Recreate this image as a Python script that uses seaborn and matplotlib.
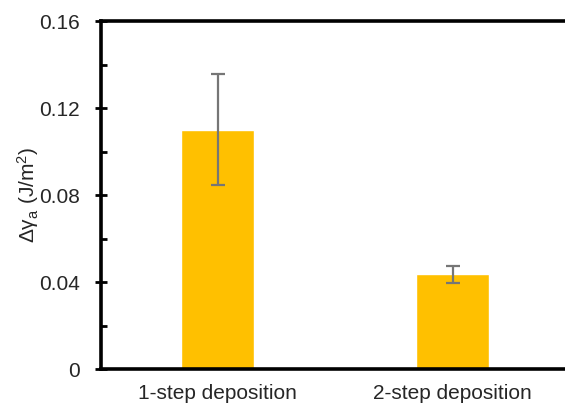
import matplotlib
matplotlib.use("Agg")
import matplotlib.pyplot as plt
import seaborn as sns
import pandas as pd
from matplotlib.ticker import MultipleLocator

categories = ["1-step deposition", "2-step deposition"]
values = [0.110, 0.0435]
errors = [0.0255, 0.0040]
yticks = [0, 0.04, 0.08, 0.12, 0.16]
ytick_labels = ["0", "0.04", "0.08", "0.12", "0.16"]

sns.set_theme(style="white")
plt.rcParams["font.family"] = ["Liberation Sans", "DejaVu Sans"]
plt.rcParams["mathtext.fontset"] = "custom"
plt.rcParams["mathtext.rm"] = "Liberation Sans"
plt.rcParams["mathtext.it"] = "Liberation Sans:italic"

df = pd.DataFrame({"method": categories, "value": values})

fig = plt.figure(figsize=(5.65, 4.04), dpi=100)
ax_w = 0.832
ax = fig.add_axes([0.1788, 0.0866, ax_w, 0.8614])

sns.barplot(data=df, x="method", y="value", color="#FFC000", saturation=1,
            width=0.31, errorbar=None, ax=ax)
ax.errorbar(range(len(categories)), values, yerr=errors, fmt="none",
            ecolor="#767676", elinewidth=1.6, capsize=5, capthick=1.6)

ax.set_xlim(-0.496, 1.504)
ax.set_ylim(0, 0.16)
ax.set_yticks(yticks)
ax.set_yticklabels(ytick_labels)
ax.yaxis.set_minor_locator(MultipleLocator(0.02))
ax.tick_params(axis="y", which="major", direction="inout", length=8, width=2,
               labelsize=15, color="black", left=True, pad=11)
ax.tick_params(axis="y", which="minor", direction="in", length=4, width=2,
               color="black", left=True)
ax.tick_params(axis="x", length=0, labelsize=15, pad=11)
for side in ["left", "top", "bottom"]:
    ax.spines[side].set_visible(True)
    ax.spines[side].set_linewidth(2.6)
    ax.spines[side].set_color("black")
ax.spines["right"].set_visible(False)

ax.set_xlabel("")
ax.set_ylabel("Δγ$_\\mathrm{a}$ (J/m$^2$)", fontsize=15)
# right edge of the rotated label sits about 60 px left of the y axis
ax.yaxis.set_label_coords(-60 / (ax_w * 565), 0.5)

fig.savefig("out.png", dpi=100)
